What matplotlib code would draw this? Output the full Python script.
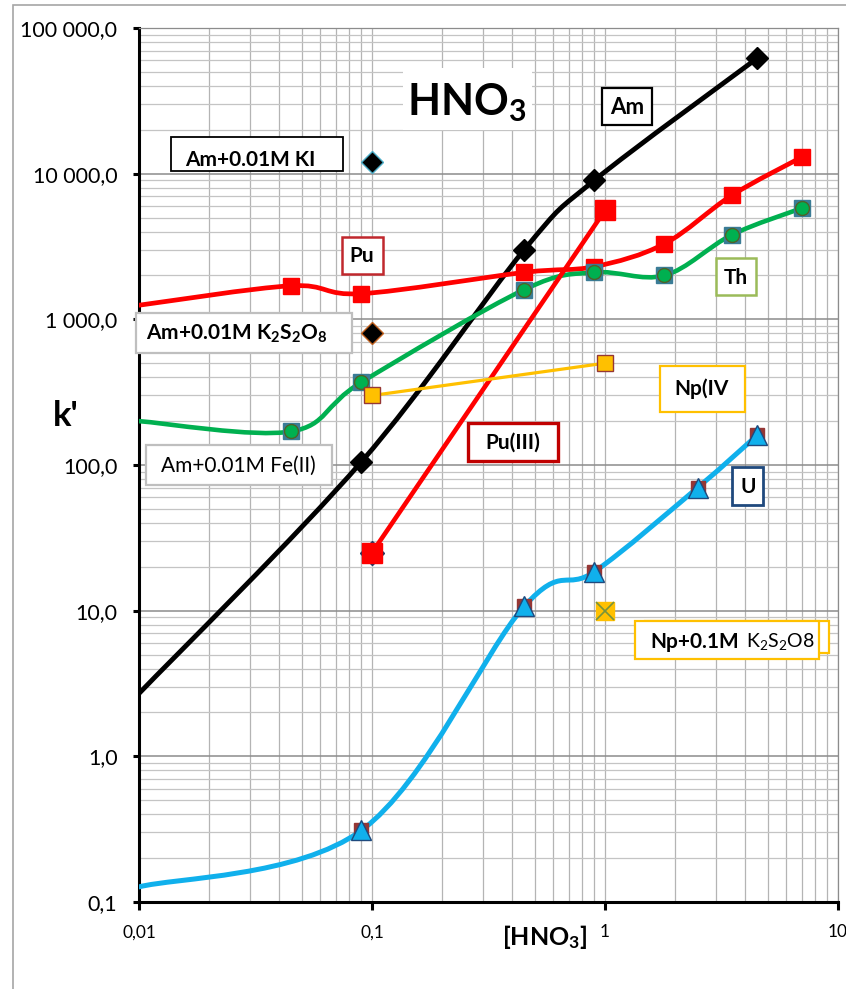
import numpy as np
import matplotlib
matplotlib.use('Agg')
import matplotlib.pyplot as plt
from matplotlib.path import Path
from matplotlib.patches import PathPatch, Rectangle
from matplotlib.ticker import FixedLocator, FuncFormatter, NullFormatter

plt.rcParams['font.family'] = ['Lato', 'DejaVu Sans']
plt.rcParams['mathtext.default'] = 'regular'

# данные (k' от концентрации HNO3)
x_am = [0.01, 0.09, 0.45, 0.9, 4.5]
k_am = [2.7, 105, 3000, 9000, 62000]
x_pu = [0.01, 0.045, 0.09, 0.45, 0.9, 1.8, 3.5, 7.0]
k_pu = [1250, 1700, 1500, 2100, 2300, 3300, 7100, 13000]
x_th = [0.01, 0.045, 0.09, 0.45, 0.9, 1.8, 3.5, 7.0]
k_th = [200, 170, 370, 1600, 2100, 2000, 3800, 5800]
x_u = [0.01, 0.09, 0.45, 0.9, 2.5, 4.5]
k_u = [0.127, 0.31, 10.7, 18.5, 70, 160]
x_pu3 = [0.1, 1.0]
k_pu3 = [25, 5600]
x_np4 = [0.1, 1.0]
k_np4 = [300, 500]
x_np_k2s2o8 = [1.0]
k_np_k2s2o8 = [10]
x_am_ki = [0.1]
k_am_ki = [12000]
x_am_k2s2o8 = [0.1]
k_am_k2s2o8 = [800]
x_am_fe = [0.1]
k_am_fe = [25]

y_ticks = [0.1, 1, 10, 100, 1000, 10000, 100000]
x_ticks = [0.01, 0.1, 1, 10]
x_tick_labels = ['0,01', '0,1', '1', '10']

W, H = 846, 989


def smooth_path(xs, ys):
    # сглаженная линия как в Excel (Катмулл-Ром в лог. координатах)
    p = np.column_stack([np.log10(xs), np.log10(ys)])
    n = len(p)
    verts = [p[0]]
    codes = [Path.MOVETO]
    for i in range(n - 1):
        p0 = p[i - 1] if i > 0 else p[i]
        p3 = p[i + 2] if i + 2 < n else p[i + 1]
        verts += [p[i] + (p[i + 1] - p0) / 6, p[i + 1] - (p3 - p[i]) / 6, p[i + 1]]
        codes += [Path.CURVE4] * 3
    return Path(10 ** np.array(verts), codes)


def y_fmt(v, pos):
    s = f'{v:,.1f}'.replace(',', ' ').replace('.', ',')
    return s


fig = plt.figure(figsize=(W / 100, H / 100), dpi=100)
ax = fig.add_axes([139 / W, 1 - 902 / H, (838 - 139) / W, (902 - 28) / H])
ax.set_xscale('log')
ax.set_yscale('log')
ax.set_xlim(0.01, 10)
ax.set_ylim(0.1, 100000)

ax.yaxis.set_major_locator(FixedLocator(y_ticks))
ax.yaxis.set_major_formatter(FuncFormatter(y_fmt))
ax.yaxis.set_minor_locator(FixedLocator([m * d for d in y_ticks[:-1] for m in range(2, 10)]))
ax.yaxis.set_minor_formatter(NullFormatter())
ax.xaxis.set_major_locator(FixedLocator(x_ticks))
ax.set_xticklabels(x_tick_labels)
ax.xaxis.set_minor_locator(FixedLocator([m * d for d in x_ticks[:-1] for m in range(2, 10)]))
ax.xaxis.set_minor_formatter(NullFormatter())

ax.grid(which='major', axis='y', color='#8c8c8c', lw=1.1, zorder=0)
ax.grid(which='minor', axis='y', color='#c4c4c4', lw=0.9, zorder=0)
ax.grid(which='both', axis='x', color='#b4b4b4', lw=0.9, zorder=0)
ax.set_axisbelow(True)

ax.tick_params(axis='y', which='major', direction='out', length=4.5, width=2.2,
               pad=11, labelsize=15.5)
ax.tick_params(axis='x', which='major', direction='out', length=6, width=2.2,
               pad=10, labelsize=12.5)
ax.tick_params(which='minor', length=0)
for side in ['left', 'bottom']:
    ax.spines[side].set_linewidth(2.2)
    ax.spines[side].set_color('black')
for side in ['top', 'right']:
    ax.spines[side].set_linewidth(0.9)
    ax.spines[side].set_color('#8c8c8c')

# линии
curves = [
    (x_am, k_am, 'black', 3.5),
    (x_pu, k_pu, '#ff0000', 3.4),
    (x_th, k_th, '#00b050', 3.3),
    (x_u, k_u, '#10b0ec', 3.6),
]
for xs, ks, c, lw in curves:
    ax.add_patch(PathPatch(smooth_path(xs, ks), fc='none', ec=c, lw=lw, zorder=3,
                           capstyle='round', joinstyle='round'))
ax.plot(x_pu3, k_pu3, color='#ff0000', lw=3.3, zorder=3)
ax.plot(x_np4, k_np4, color='#ffc000', lw=2.3, zorder=3)

# маркеры
ax.plot(x_am[1:], k_am[1:], ls='none', marker='D', ms=11, color='black', zorder=5)
ax.plot(x_pu[1:], k_pu[1:], ls='none', marker='s', ms=11.5, color='#ff0000', zorder=5)
ax.plot(x_th[1:], k_th[1:], ls='none', marker='s', ms=11, color='#3a7c96', zorder=5)
ax.plot(x_th[1:], k_th[1:], ls='none', marker='o', ms=10, mfc='#00b050', mec='#4f6228',
        mew=1, zorder=5)
ax.plot(x_u[1:], k_u[1:], ls='none', marker='s', ms=10, color='#953735', zorder=5)
ax.plot(x_u[1:], k_u[1:], ls='none', marker='^', ms=14.5, mfc='#10b0ec', mec='#1f497d',
        mew=1, zorder=5)
ax.plot(x_am_fe, k_am_fe, ls='none', marker='D', ms=12, color='#1f3864', zorder=5)
ax.plot(x_pu3, k_pu3, ls='none', marker='s', ms=14, color='#ff0000', zorder=5)
ax.plot(x_np4, k_np4, ls='none', marker='s', ms=11.5, mfc='#ffc000', mec='#953735',
        mew=1, zorder=5)
ax.plot(x_np_k2s2o8, k_np_k2s2o8, ls='none', marker='s', ms=13.5, color='#ffc000', zorder=5)
ax.plot(x_np_k2s2o8, k_np_k2s2o8, ls='none', marker='x', ms=13, color='#77933c', mew=1.2,
        zorder=6)
ax.plot(x_am_ki, k_am_ki, ls='none', marker='D', ms=11, mfc='black', mec='#4bacc6',
        mew=1, zorder=5)
ax.plot(x_am_k2s2o8, k_am_k2s2o8, ls='none', marker='D', ms=11, mfc='black', mec='#c0601e',
        mew=1, zorder=5)


def box(x0, y0, x1, y1, ec, lw=1.5, fc='white'):
    fig.add_artist(Rectangle((x0 / W, 1 - y1 / H), (x1 - x0) / W, (y1 - y0) / H,
                             transform=fig.transFigure, fc=fc, ec=ec, lw=lw, zorder=5))


def label(x, y, s, size=15, weight='bold', ha='center'):
    fig.text(x / W, 1 - y / H, s, ha=ha, va='center', fontsize=size, weight=weight, zorder=6)


# подписи
box(403, 68, 532, 130, 'none', lw=0)
label(467, 103, 'HNO$_3$', size=31)
box(602, 88, 652, 125, 'black', lw=1.6)
label(627, 107, 'Am', size=16)
box(171, 137, 343, 171, 'black', lw=1.3)
label(250, 160, 'Am+0.01M KI')
box(342, 237, 383, 274, '#c0282d', lw=1.8)
label(362, 256, 'Pu')
box(136, 313, 352, 353, '#bfbfbf', lw=1.6)
label(237, 334, 'Am+0.01M K$_2$S$_2$O$_8$')
box(716, 258, 756, 295, '#9bbb59', lw=1.8)
label(736, 278, 'Th')
box(660, 366, 745, 412, '#ffc000', lw=1.6)
label(702, 389, 'Np(IV')
box(468, 423, 558, 461, '#c00000', lw=2.4)
label(513, 443, 'Pu(III)')
box(146, 445, 332, 485, '#bfbfbf', lw=1.6)
label(238, 466, 'Am+0.01M Fe(II)', weight='normal')
box(732, 467, 763, 505, '#1f497d', lw=2)
label(748, 487, 'U')
box(645, 621, 829, 653, '#ffc000', lw=1.6)
box(635, 621, 819, 659, '#ffc000', lw=1.6)
label(739, 642, 'Np+0.1M', ha='right')
label(746, 642, 'K$_2$S$_2$O8', size=14, weight='normal', ha='left')

label(66, 416, "k'", size=25)
label(545, 937, '[HNO$_3$]', size=18)

fig.add_artist(Rectangle((13 / W, -0.01), 1, 1 - 5 / H + 0.01, transform=fig.transFigure,
                         fc='none', ec='#a6a6a6', lw=1.2, zorder=10))

fig.savefig('out.png', dpi=100)
